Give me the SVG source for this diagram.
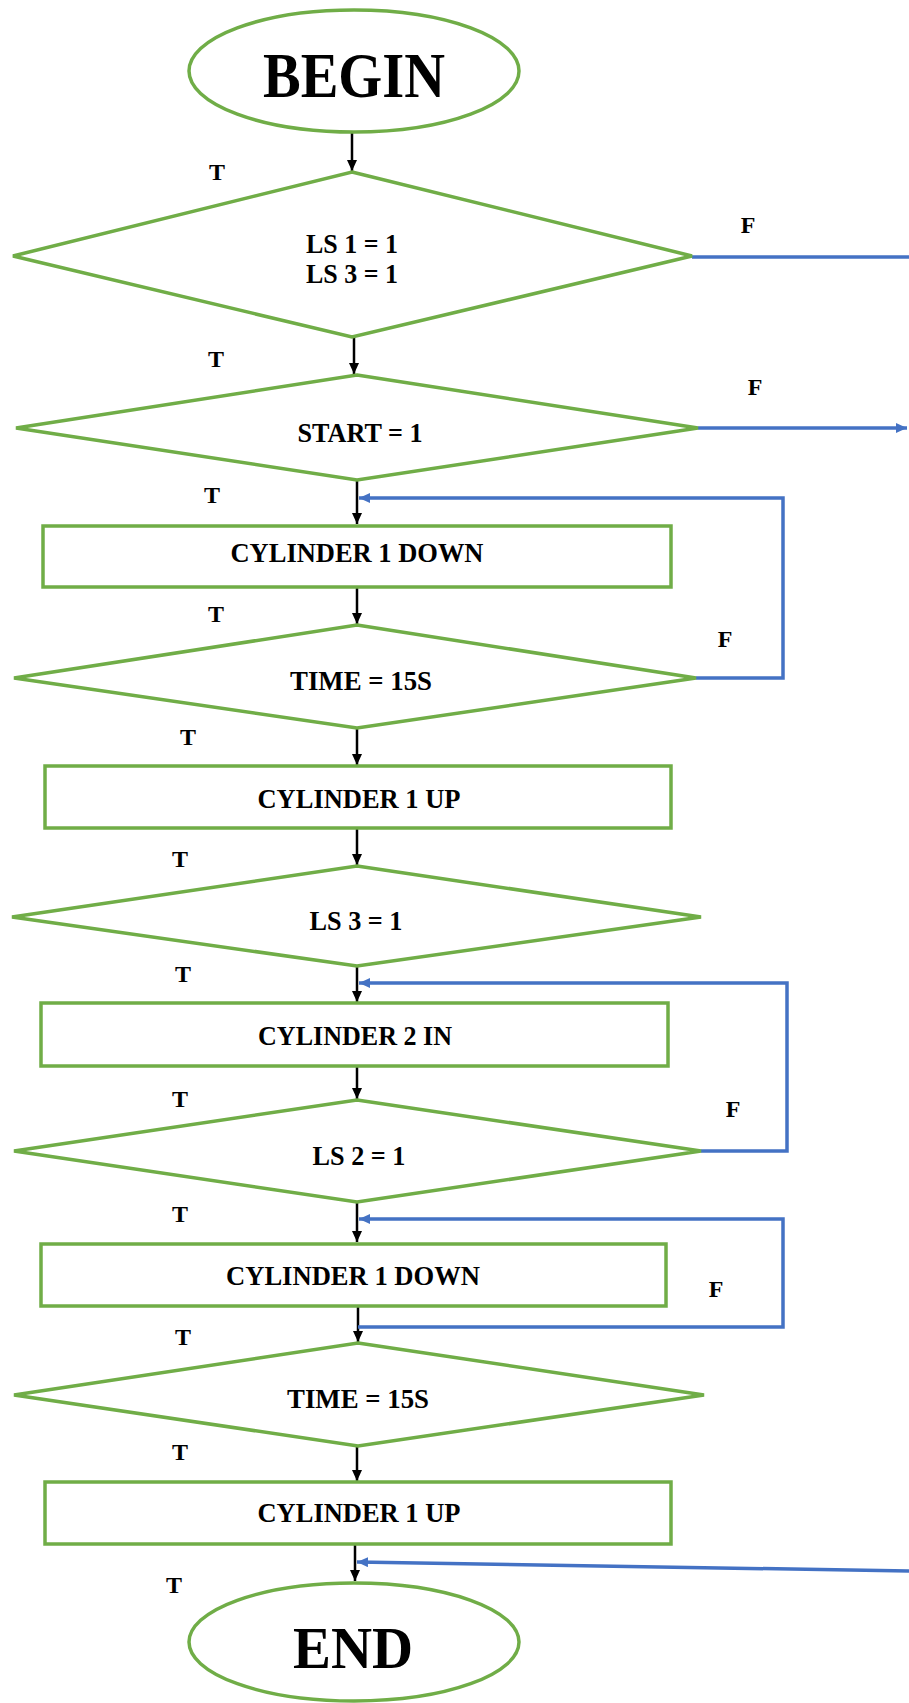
<svg xmlns="http://www.w3.org/2000/svg" width="909" height="1703" viewBox="0 0 909 1703">
<style>
.node{fill:#fff;stroke:#70AD47;stroke-width:3.5}
.t{font-family:"Liberation Serif",serif;font-weight:bold;fill:#000;text-anchor:middle}
.m{font-size:27px}
.lbl{font-size:24px}
.blk{stroke:#000;stroke-width:2.5;fill:none}
.blu{stroke:#4472C4;stroke-width:3.5;fill:none}
</style>
<defs>
<marker id="ab" markerUnits="userSpaceOnUse" markerWidth="12" markerHeight="12" refX="11" refY="5" orient="auto"><path d="M0,0 L11,5 L0,10 z" fill="#000"/></marker>
<marker id="au" markerUnits="userSpaceOnUse" markerWidth="12" markerHeight="12" refX="11" refY="5" orient="auto"><path d="M0,0 L11,5 L0,10 z" fill="#4472C4"/></marker>
</defs>
<rect width="909" height="1703" fill="#fff"/>
<g id="connectors">
<line class="blk" x1="352" y1="132" x2="352" y2="171" marker-end="url(#ab)"/>
<line class="blk" x1="354" y1="337" x2="354" y2="374" marker-end="url(#ab)"/>
<line class="blk" x1="357" y1="480" x2="357" y2="524" marker-end="url(#ab)"/>
<line class="blk" x1="357" y1="587" x2="357" y2="624" marker-end="url(#ab)"/>
<line class="blk" x1="357" y1="728" x2="357" y2="765" marker-end="url(#ab)"/>
<line class="blk" x1="357" y1="828" x2="357" y2="865" marker-end="url(#ab)"/>
<line class="blk" x1="357" y1="966" x2="357" y2="1002" marker-end="url(#ab)"/>
<line class="blk" x1="357" y1="1066" x2="357" y2="1099" marker-end="url(#ab)"/>
<line class="blk" x1="357" y1="1202" x2="357" y2="1242" marker-end="url(#ab)"/>
<line class="blk" x1="358" y1="1306" x2="358" y2="1342" marker-end="url(#ab)"/>
<line class="blk" x1="357" y1="1446" x2="357" y2="1481" marker-end="url(#ab)"/>
<line class="blk" x1="355" y1="1544" x2="355" y2="1581" marker-end="url(#ab)"/>
<line class="blu" x1="692" y1="257" x2="909" y2="257"/>
<line class="blu" x1="698" y1="428" x2="907" y2="428" marker-end="url(#au)"/>
<polyline class="blu" points="696,678 783,678 783,498 359,498" marker-end="url(#au)"/>
<polyline class="blu" points="701,1151 787,1151 787,983 359,983" marker-end="url(#au)"/>
<polyline class="blu" points="358,1327 783,1327 783,1219 359,1219" marker-end="url(#au)"/>
<line class="blu" x1="909" y1="1571" x2="357" y2="1562" marker-end="url(#au)"/>
</g>
<g id="labels">
<text class="t lbl" x="217" y="180">T</text>
<text class="t lbl" x="216" y="367">T</text>
<text class="t lbl" x="212" y="503">T</text>
<text class="t lbl" x="216" y="622">T</text>
<text class="t lbl" x="188" y="745">T</text>
<text class="t lbl" x="180" y="867">T</text>
<text class="t lbl" x="183" y="982">T</text>
<text class="t lbl" x="180" y="1107">T</text>
<text class="t lbl" x="180" y="1222">T</text>
<text class="t lbl" x="183" y="1345">T</text>
<text class="t lbl" x="180" y="1460">T</text>
<text class="t lbl" x="174" y="1593">T</text>
<text class="t lbl" x="748" y="233">F</text>
<text class="t lbl" x="755" y="395">F</text>
<text class="t lbl" x="725" y="647">F</text>
<text class="t lbl" x="733" y="1117">F</text>
<text class="t lbl" x="716" y="1297">F</text>
</g>
<g id="begin">
<ellipse class="node" cx="354" cy="71" rx="165" ry="61"/>
<text class="t" x="354" y="97" font-size="63" textLength="182" lengthAdjust="spacingAndGlyphs">BEGIN</text>
</g>
<g id="d1">
<polygon class="node" points="352,172 692,256 352,337 13,256"/>
<text class="t m" x="352" y="253" textLength="92" lengthAdjust="spacingAndGlyphs">LS 1 = 1</text>
<text class="t m" x="352" y="283" textLength="92" lengthAdjust="spacingAndGlyphs">LS 3 = 1</text>
</g>
<g id="d2">
<polygon class="node" points="357,375 698,428 357,480 16,428"/>
<text class="t m" x="360" y="442" textLength="125" lengthAdjust="spacingAndGlyphs">START = 1</text>
</g>
<g id="r1">
<rect class="node" x="43" y="526" width="628" height="61"/>
<text class="t m" x="357" y="562" textLength="253" lengthAdjust="spacingAndGlyphs">CYLINDER 1 DOWN</text>
</g>
<g id="d3">
<polygon class="node" points="357,625 696,678 357,728 14,678"/>
<text class="t m" x="361" y="690" textLength="142" lengthAdjust="spacingAndGlyphs">TIME = 15S</text>
</g>
<g id="r2">
<rect class="node" x="45" y="766" width="626" height="62"/>
<text class="t m" x="359" y="808" textLength="203" lengthAdjust="spacingAndGlyphs">CYLINDER 1 UP</text>
</g>
<g id="d4">
<polygon class="node" points="357,866 701,917 357,966 12,917"/>
<text class="t m" x="356" y="930" textLength="93" lengthAdjust="spacingAndGlyphs">LS 3 = 1</text>
</g>
<g id="r3">
<rect class="node" x="41" y="1003" width="627" height="63"/>
<text class="t m" x="355" y="1045" textLength="194" lengthAdjust="spacingAndGlyphs">CYLINDER 2 IN</text>
</g>
<g id="d5">
<polygon class="node" points="357,1100 701,1151 357,1202 14,1151"/>
<text class="t m" x="359" y="1165" textLength="93" lengthAdjust="spacingAndGlyphs">LS 2 = 1</text>
</g>
<g id="r4">
<rect class="node" x="41" y="1244" width="625" height="62"/>
<text class="t m" x="353" y="1285" textLength="254" lengthAdjust="spacingAndGlyphs">CYLINDER 1 DOWN</text>
</g>
<g id="d6">
<polygon class="node" points="358,1343 704,1395 358,1446 14,1395"/>
<text class="t m" x="358" y="1408" textLength="142" lengthAdjust="spacingAndGlyphs">TIME = 15S</text>
</g>
<g id="r5">
<rect class="node" x="45" y="1482" width="626" height="62"/>
<text class="t m" x="359" y="1522" textLength="203" lengthAdjust="spacingAndGlyphs">CYLINDER 1 UP</text>
</g>
<g id="end">
<ellipse class="node" cx="354" cy="1642" rx="165" ry="59"/>
<text class="t" x="353" y="1668" font-size="60" textLength="120" lengthAdjust="spacingAndGlyphs">END</text>
</g>
</svg>
